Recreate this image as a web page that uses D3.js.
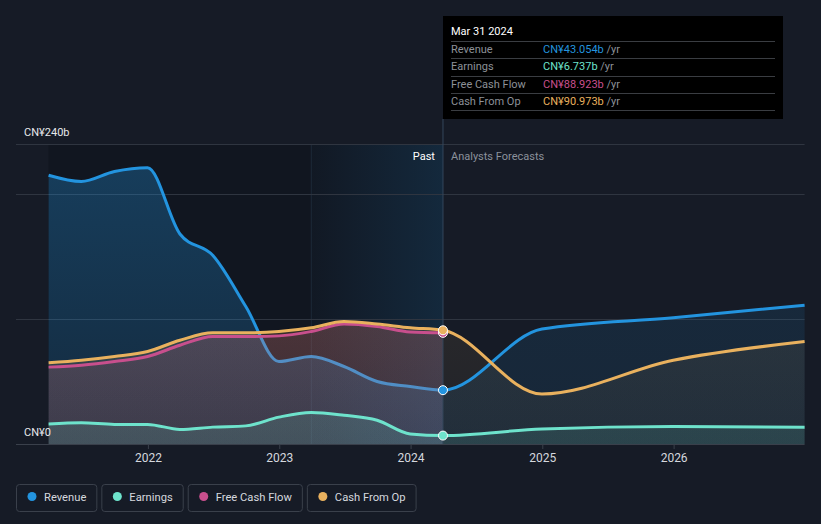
<!DOCTYPE html>
<html><head><meta charset="utf-8">
<script src="https://cdn.jsdelivr.net/npm/d3@7"></script>
<style>html,body{margin:0;padding:0;background:#161b26;}svg{display:block;font-family:Roboto,"Open Sans",sans-serif;}</style>
</head><body><svg id="c" width="821" height="524"></svg>
<script>
// ---- data (CN¥ billions, trailing twelve months) ----
const pastDates = ["2021-03-31","2021-06-30","2021-09-30","2021-12-31","2022-03-31","2022-06-30","2022-09-30","2022-12-31","2023-03-31","2023-06-30","2023-09-30","2023-12-31","2024-03-31"];
const revenuePast  = [215, 210, 218, 221, 168, 151, 110, 66, 70, 62, 50, 46, 43.054];
const earningsPast = [16, 17, 15.7, 15.7, 11.7, 13.5, 14.5, 21.5, 25.3, 23, 19, 8, 6.737];
const fcfPast      = [61.5, 63, 66, 70, 79, 86, 86, 86.5, 90, 96, 94, 89.6, 88.923];
const cfoPast      = [65, 67, 70, 74, 83, 89, 89, 90, 93, 98, 96, 93, 90.973];
const forecastDates    = ["2024-03-31","2024-12-31","2025-12-31","2026-12-31"];
const revenueForecast  = [43.054, 92, 101, 111];
const earningsForecast = [6.737, 12, 14, 13.4];
const cfoForecast      = [90.973, 40, 67, 82];
const xTickLabels = ["2022","2023","2024","2025","2026"];
const yTickValues = [0, 100, 200, 240];
const yLabels = ["CN¥0", "CN¥240b"];
const legendNames = ["Revenue","Earnings","Free Cash Flow","Cash From Op"];
const tooltipDate = "Mar 31 2024";
const tooltipValues = ["CN¥43.054b","CN¥6.737b","CN¥88.923b","CN¥90.973b"];

const colors = {rev:"#2394df", earn:"#6ee3cc", fcf:"#c84f8d", cfo:"#e9b15e"};
const legendColors = [colors.rev, colors.earn, colors.fcf, colors.cfo];

const parse = d3.utcParse("%Y-%m-%d");
const mk = (dates, vals) => dates.map((d,i)=>({date:parse(d), v:vals[i]}));
const rev = mk(pastDates, revenuePast).concat(mk(forecastDates, revenueForecast).slice(1));
const earn = mk(pastDates, earningsPast).concat(mk(forecastDates, earningsForecast).slice(1));
const cfo = mk(pastDates, cfoPast).concat(mk(forecastDates, cfoForecast).slice(1));
const fcf = mk(pastDates, fcfPast);

const svg = d3.select("#c");
const x = d3.scaleUtc().domain([parse("2021-03-31"), parse("2026-12-31")]).range([48.6, 804.6]);
const y = d3.scaleLinear().domain([0,240]).range([444,144]);
const nowX = x(parse("2024-03-31"));
const past2023X = x(parse("2023-03-31"));
const x0 = x.range()[0], x1 = x.range()[1];

const defs = svg.append("defs");
function vgrad(id, color, o1, o2){
  const g = defs.append("linearGradient").attr("id",id).attr("gradientUnits","userSpaceOnUse")
    .attr("x1",0).attr("x2",0).attr("y1",144).attr("y2",444);
  g.append("stop").attr("offset","0%").attr("stop-color",color).attr("stop-opacity",o1);
  g.append("stop").attr("offset","100%").attr("stop-color",color).attr("stop-opacity",o2);
}
vgrad("gRevP", colors.rev, 0.32, 0.16);
vgrad("gRevF", colors.rev, 0.13, 0.10);
vgrad("gCfoP", colors.cfo, 0.25, 0.10);
vgrad("gFcfP", colors.fcf, 0.20, 0.12);
vgrad("gCfoF", colors.cfo, 0.14, 0.05);
vgrad("gEarnP", colors.earn, 0.18, 0.14);
vgrad("gEarnF", colors.earn, 0.16, 0.12);
const hg = defs.append("linearGradient").attr("id","gPast").attr("x1","0%").attr("x2","100%").attr("y1",0).attr("y2",0);
hg.append("stop").attr("offset","0%").attr("stop-color",colors.rev).attr("stop-opacity",0.02);
hg.append("stop").attr("offset","100%").attr("stop-color",colors.rev).attr("stop-opacity",0.15);

defs.append("clipPath").attr("id","cpPast").append("rect").attr("x",x0-2).attr("y",100).attr("width",nowX-x0+2).attr("height",345);
defs.append("clipPath").attr("id","cpFut").append("rect").attr("x",nowX).attr("y",100).attr("width",x1-nowX+2).attr("height",345);

// backgrounds
svg.append("rect").attr("x",x0).attr("y",144).attr("width",nowX-x0).attr("height",300).attr("fill","#111620");
svg.append("rect").attr("x",past2023X).attr("y",144).attr("width",nowX-past2023X).attr("height",300).attr("fill","url(#gPast)");
svg.append("line").attr("x1",past2023X).attr("x2",past2023X).attr("y1",144).attr("y2",444).attr("stroke","#1d2a38").attr("stroke-width",1);

// grid
svg.append("g").selectAll("line").data(yTickValues).join("line")
  .attr("x1",16).attr("x2",x1).attr("y1",d=>Math.round(y(d))+0.5).attr("y2",d=>Math.round(y(d))+0.5)
  .attr("stroke",d=>d===0?"#3a404b":"#2f3540").attr("stroke-width",1);

// axis
const xAxis = d3.axisBottom(x).tickValues(xTickLabels.map(t=>parse(t+"-01-01"))).tickFormat(d3.utcFormat("%Y")).tickSize(5).tickPadding(4);
const ax = svg.append("g").attr("transform","translate(0,444)").call(xAxis);
ax.select(".domain").remove();
ax.selectAll(".tick line").attr("stroke","#3a404b");
ax.selectAll(".tick text").attr("fill","#d5d8de").attr("font-size",12).attr("font-family","Roboto,sans-serif");

const area = d3.area().x(d=>x(d.date)).y0(y(0)).y1(d=>y(d.v)).curve(d3.curveMonotoneX);
const line = d3.line().x(d=>x(d.date)).y(d=>y(d.v)).curve(d3.curveMonotoneX);

// revenue area
svg.append("path").datum(rev).attr("d",area).attr("fill","url(#gRevP)").attr("clip-path","url(#cpPast)");
svg.append("path").datum(rev).attr("d",area).attr("fill","url(#gRevF)").attr("clip-path","url(#cpFut)");
// forecast areas
svg.append("path").datum(cfo).attr("d",area).attr("fill","url(#gCfoF)").attr("clip-path","url(#cpFut)");
svg.append("path").datum(earn).attr("d",area).attr("fill","url(#gEarnF)").attr("clip-path","url(#cpFut)");
// revenue line
svg.append("path").datum(rev).attr("d",line).attr("fill","none").attr("stroke",colors.rev).attr("stroke-width",3);
// past cash areas
svg.append("path").datum(cfo).attr("d",area).attr("fill","url(#gCfoP)").attr("clip-path","url(#cpPast)");
svg.append("path").datum(fcf).attr("d",area).attr("fill","url(#gFcfP)").attr("clip-path","url(#cpPast)");
svg.append("path").datum(earn).attr("d",area).attr("fill","url(#gEarnP)").attr("clip-path","url(#cpPast)");
// lines
svg.append("path").datum(fcf).attr("d",line).attr("fill","none").attr("stroke",colors.fcf).attr("stroke-width",3);
svg.append("path").datum(cfo).attr("d",line).attr("fill","none").attr("stroke",colors.cfo).attr("stroke-width",3);
svg.append("path").datum(earn).attr("d",line).attr("fill","none").attr("stroke",colors.earn).attr("stroke-width",3);

// now line
svg.append("line").attr("x1",nowX).attr("x2",nowX).attr("y1",119).attr("y2",444).attr("stroke","#33475b").attr("stroke-width",1);

// dots
const dotData = [[fcf, colors.fcf],[cfo, colors.cfo],[rev, colors.rev],[earn, colors.earn]];
dotData.forEach(([s,c])=>{
  const p = s[pastDates.length-1];
  svg.append("circle").attr("cx",x(p.date)).attr("cy",y(p.v)).attr("r",4.5).attr("fill",c).attr("stroke","#ffffff").attr("stroke-width",1);
});

// labels
svg.append("text").attr("x",24).attr("y",136).attr("fill","#e6e8eb").attr("font-size",11).text(yLabels[1]);
svg.append("text").attr("x",24).attr("y",436).attr("fill","#e6e8eb").attr("font-size",11).text(yLabels[0]);
svg.append("text").attr("x",nowX-8).attr("y",160).attr("text-anchor","end").attr("fill","#ffffff").attr("font-size",11).text("Past");
svg.append("text").attr("x",nowX+8).attr("y",160).attr("fill","#8b919b").attr("font-size",11).text("Analysts Forecasts");

// tooltip
const tt = svg.append("g");
tt.append("rect").attr("x",443).attr("y",16).attr("width",340).attr("height",103).attr("fill","#000000");
tt.append("text").attr("x",451).attr("y",35).attr("fill","#ffffff").attr("font-size",11).text(tooltipDate);
const rowLines = [41.5, 58.5, 76.5, 93.5, 110.5];
rowLines.forEach(ly=>tt.append("line").attr("x1",451).attr("x2",775).attr("y1",ly).attr("y2",ly).attr("stroke","#3a3d42").attr("stroke-width",1));
legendNames.forEach((n,i)=>{
  const ty = 53 + i*17.4;
  tt.append("text").attr("x",451).attr("y",ty).attr("fill","#8d9198").attr("font-size",11).text(n);
  const t = tt.append("text").attr("x",543).attr("y",ty).attr("font-size",11);
  t.append("tspan").attr("fill",legendColors[i]).text(tooltipValues[i]);
  t.append("tspan").attr("fill","#8d9198").text(" /yr");
});

// legend
let lx = 16;
legendNames.forEach((n,i)=>{
  const g = svg.append("g");
  const rect = g.append("rect").attr("x",lx+0.5).attr("y",484.5).attr("height",27).attr("rx",3).attr("fill","none").attr("stroke","#3a404b");
  g.append("circle").attr("cx",lx+16).attr("cy",496.5).attr("r",4.5).attr("fill",legendColors[i]);
  const t = g.append("text").attr("x",lx+28).attr("y",500.5).attr("fill","#d5d8de").attr("font-size",11.2).text(n);
  const w = t.node().getComputedTextLength() + 28 + 10;
  rect.attr("width",w);
  lx += w + 5;
});
</script></body></html>
